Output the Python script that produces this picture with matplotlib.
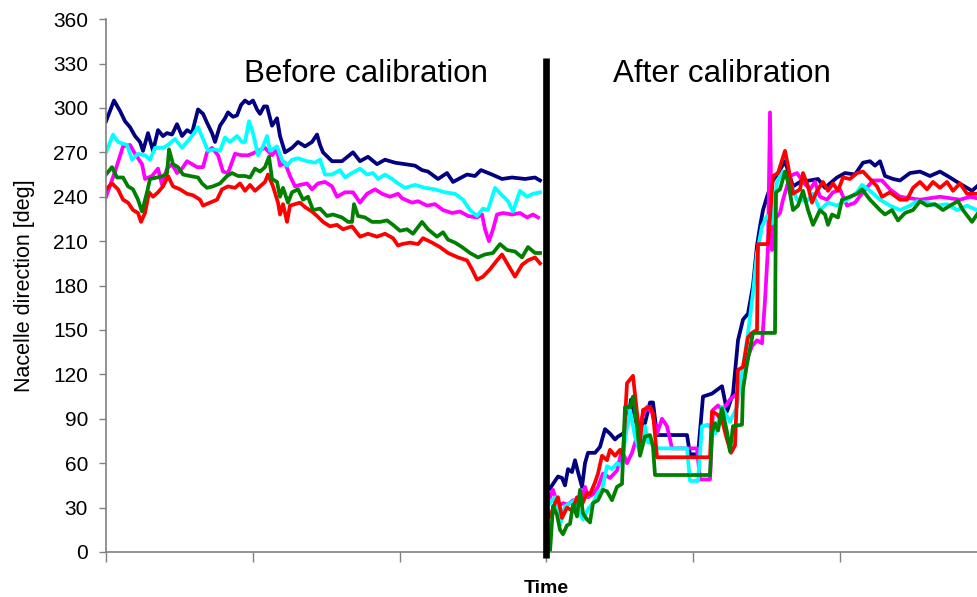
import matplotlib
matplotlib.use("Agg")
import matplotlib.pyplot as plt
import numpy as np

plt.rcParams['font.family'] = ['Liberation Sans', 'DejaVu Sans']

# ---------------- data (time in samples, direction in degrees) ----------------
# Before calibration
t_navy_b = [0,8,14,19,24,29,34,37,42,47,52,57,61,66,71,76,81,86,92,97,101,106,109,114,119,122,127,131,135,139,
            143,147,151,154,158,161,166,171,174,179,186,192,199,206,211,214,217,226,236,247,254,262,271,279,289,299,
            309,316,322,332,341,347,361,369,375,386,396,406,419,429,434]
v_navy_b = [291,305,298,291,287,281,277,271,283,271,285,281,283,282,289,281,285,283,299,296,290,283,277,288,293,297,
            294,295,302,305,303,305,299,296,301,301,288,293,281,270,273,277,274,277,282,275,270,264,264,270,264,267,
            262,265,263,262,261,258,257,252,256,250,255,254,258,255,252,253,252,253,251]

t_cyan_b = [0,7,12,21,26,32,39,44,49,57,62,69,76,81,86,92,97,102,109,114,119,124,131,136,139,143,147,152,157,161,
            164,171,176,181,186,192,201,209,214,219,226,234,239,246,254,261,267,272,279,286,292,299,309,319,329,339,
            349,357,364,371,377,382,389,396,402,407,414,421,427,434]
v_cyan_b = [270,282,277,275,265,269,268,265,273,273,275,279,273,277,281,287,279,271,272,271,280,277,281,277,277,291,
            283,268,274,281,271,274,265,261,265,266,264,263,265,255,255,258,253,256,259,255,256,252,255,252,249,246,
            248,246,245,243,242,238,231,227,232,231,246,241,237,230,244,240,242,243]

t_magenta_b = [0,9,17,24,29,36,39,46,52,56,61,66,71,76,81,86,91,97,101,106,112,117,122,129,136,142,146,152,159,166,
               171,174,179,184,189,194,201,206,212,219,226,231,239,247,254,261,269,276,284,292,296,306,312,321,329,337,
               346,354,362,371,376,379,383,387,391,397,406,414,421,427,432]
v_magenta_b = [240,257,274,275,269,262,252,254,259,248,259,262,256,259,264,262,260,260,270,273,268,257,256,269,268,268,
               269,271,273,268,272,261,263,254,247,248,249,245,249,250,247,240,243,243,236,242,245,242,240,242,239,236,
               237,234,235,231,229,230,227,226,228,218,210,218,228,229,228,229,226,228,226]

t_green_b = [0,6,11,17,22,27,32,36,41,44,51,57,61,63,67,72,77,84,92,96,101,107,114,121,126,132,139,144,149,154,159,
             163,166,171,174,177,182,186,192,197,202,207,214,221,227,236,242,246,248,252,259,266,274,281,287,294,301,
             307,316,322,331,337,342,349,356,364,372,379,387,394,401,409,416,422,429,434]
v_green_b = [255,260,253,253,247,245,238,230,243,252,253,254,256,272,262,260,255,254,253,249,246,247,249,254,256,254,
             254,253,259,257,260,267,252,250,240,246,236,243,245,238,240,231,232,227,228,226,223,223,235,227,226,223,
             223,224,221,217,218,215,223,218,213,216,211,209,206,202,199,201,202,208,204,203,199,206,202,202]

t_red_b = [0,6,12,17,22,27,32,35,39,43,47,52,57,62,67,74,81,87,94,97,104,111,116,122,129,134,139,144,149,154,159,
           162,167,172,174,177,181,184,189,194,199,206,211,217,224,231,237,246,254,262,271,279,287,292,296,304,312,
           317,326,334,342,352,361,366,371,377,384,391,396,402,409,416,422,429,434]
v_red_b = [245,249,245,238,236,231,229,223,229,243,240,243,247,254,247,245,242,241,238,234,236,238,245,247,246,249,
           244,248,244,247,250,255,247,236,228,235,223,234,235,236,233,230,227,223,220,221,218,220,213,215,213,215,
           212,207,208,209,208,212,209,206,202,199,197,191,184,186,191,197,201,194,186,194,197,199,195]

# After calibration
t_navy_a = [444,447,452,456,459,462,466,469,472,476,479,482,489,494,499,504,509,512,517,521,525,528,532,539,544,547,
            551,581,584,592,597,606,616,621,627,632,637,642,647,651,654,657,661,666,672,679,687,694,704,712,719,724,
            731,739,749,757,764,769,774,779,787,794,804,814,824,834,844,851,861,866,871]
v_navy_a = [43,46,51,50,45,56,54,62,54,44,60,67,67,71,83,80,76,78,80,85,103,94,83,87,101,101,79,79,66,66,105,107,112,
            95,107,143,157,161,180,207,220,231,240,250,256,264,247,250,251,252,246,249,253,256,255,263,264,261,264,254,
            252,251,256,257,254,257,253,250,246,244,247]

t_cyan_a = [444,449,454,459,464,469,474,477,482,487,492,496,501,506,511,516,519,524,529,534,539,542,547,552,581,584,
            592,596,602,609,616,624,631,637,642,647,651,656,661,666,671,677,684,691,701,707,714,722,731,741,751,756,
            764,774,784,794,804,811,821,831,841,851,861,871]
v_cyan_a = [33,37,18,31,33,35,26,22,29,33,40,42,58,56,60,58,76,96,78,67,85,74,74,70,70,48,48,85,86,80,98,88,98,125,
            148,175,202,220,227,222,250,257,250,238,237,242,231,236,234,238,243,248,244,238,234,231,234,237,236,234,
            235,231,234,231]

t_magenta_a = [444,447,452,457,462,467,472,476,479,482,487,492,497,504,511,516,521,526,531,536,541,546,551,556,561,
               566,591,594,604,607,612,616,621,624,631,637,642,646,651,656,659,662,664,666,669,674,677,684,691,697,
               704,709,714,721,727,734,741,749,757,767,776,784,794,804,814,824,834,844,854,864,871]
v_magenta_a = [37,42,31,33,32,35,30,37,44,37,39,44,53,50,55,69,60,67,78,91,98,94,80,90,85,70,70,49,49,96,99,96,100,
               103,107,118,132,139,143,141,170,206,297,204,225,229,238,254,256,250,245,250,240,238,243,245,234,236,
               243,251,251,245,240,239,238,239,240,239,238,240,239]

t_red_a = [444,449,452,456,461,466,471,476,481,484,489,492,496,501,504,509,514,517,521,527,531,534,537,544,547,551,
           604,606,611,616,621,625,629,632,637,642,646,651,652,662,667,672,679,682,687,694,697,702,706,711,717,722,
           727,732,737,744,751,757,764,771,776,784,794,801,807,814,821,827,834,841,847,854,861,871]
v_red_a = [24,33,37,23,30,28,37,32,40,39,47,53,65,62,69,65,69,65,114,119,94,74,96,98,94,64,64,95,93,89,76,67,72,123,
           125,145,148,150,208,208,254,256,271,261,242,245,256,247,236,244,250,244,249,244,253,252,256,257,252,247,
           240,243,238,238,246,250,245,250,246,250,244,249,242,242]

t_green_a = [444,447,451,454,457,461,464,467,471,474,477,481,484,487,492,497,501,506,511,516,519,524,527,531,534,539,
             544,547,549,604,606,609,612,616,621,624,627,636,637,641,647,669,670,674,679,682,687,692,697,702,707,714,
             719,722,726,732,736,744,751,756,764,774,779,786,792,799,807,814,821,829,837,844,852,857,866,871]
v_green_a = [0,31,25,15,12,18,19,32,24,42,26,22,20,33,35,42,41,35,44,46,98,98,105,85,65,78,79,71,52,52,81,87,82,97,81,
             68,85,86,110,127,148,148,243,245,257,250,231,234,244,231,221,231,228,221,228,226,238,240,242,245,238,231,
             228,231,224,229,231,237,234,235,231,234,237,231,223,228]

series = [
    ("#000080", t_navy_b, v_navy_b, t_navy_a, v_navy_a),
    ("#FF00FF", t_magenta_b, v_magenta_b, t_magenta_a, v_magenta_a),
    ("#00FFFF", t_cyan_b, v_cyan_b, t_cyan_a, v_cyan_a),
    ("#FF0000", t_red_b, v_red_b, t_red_a, v_red_a),
    ("#008000", t_green_b, v_green_b, t_green_a, v_green_a),
]

calibration_time = 440
segment_labels = ["Before calibration", "After calibration"]
y_ticks = list(range(0, 361, 30))
x_tick_step = 146.8

# ---------------- figure ----------------
fig = plt.figure(figsize=(9.78, 5.97), dpi=100)
ax = fig.add_axes([0.1084, 0.0754, 0.8916, 0.8926])

for color, tb, vb, ta, va in series:
    ax.plot(tb, vb, color=color, lw=2.7, solid_joinstyle='round')
    ax.plot(ta, va, color=color, lw=2.7, solid_joinstyle='round')

ax.plot([calibration_time, calibration_time], [-4, 334], color='black', lw=4.8,
        clip_on=False, zorder=5, solid_capstyle='butt')

ax.text(260, 323, segment_labels[0], fontsize=22.5, ha='center', va='center')
ax.text(616, 323, segment_labels[1], fontsize=22.5, ha='center', va='center')

ax.set_xlim(0, 872)
ax.set_ylim(0, 360)
ax.set_yticks(y_ticks)
ax.set_xticks(np.arange(0, 872, x_tick_step))
ax.set_xticklabels([])
ax.tick_params(axis='y', direction='out', length=5, width=1, color='#808080',
               labelsize=15, pad=8)
ax.tick_params(axis='x', direction='out', length=7, width=1, color='#808080')

for s in ['top', 'right']:
    ax.spines[s].set_visible(False)
for s in ['left', 'bottom']:
    ax.spines[s].set_color('#808080')
    ax.spines[s].set_linewidth(1.2)

ax.set_ylabel("Nacelle direction [deg]", fontsize=15.5)
ax.yaxis.set_label_coords(-0.093, 0.5)
ax.yaxis.label.set_va('center')
ax.set_xlabel("Time", fontsize=14, fontweight='bold')
ax.xaxis.set_label_coords(0.5046, -0.0677)
ax.xaxis.label.set_va('center')

fig.savefig("out.png", dpi=100)
